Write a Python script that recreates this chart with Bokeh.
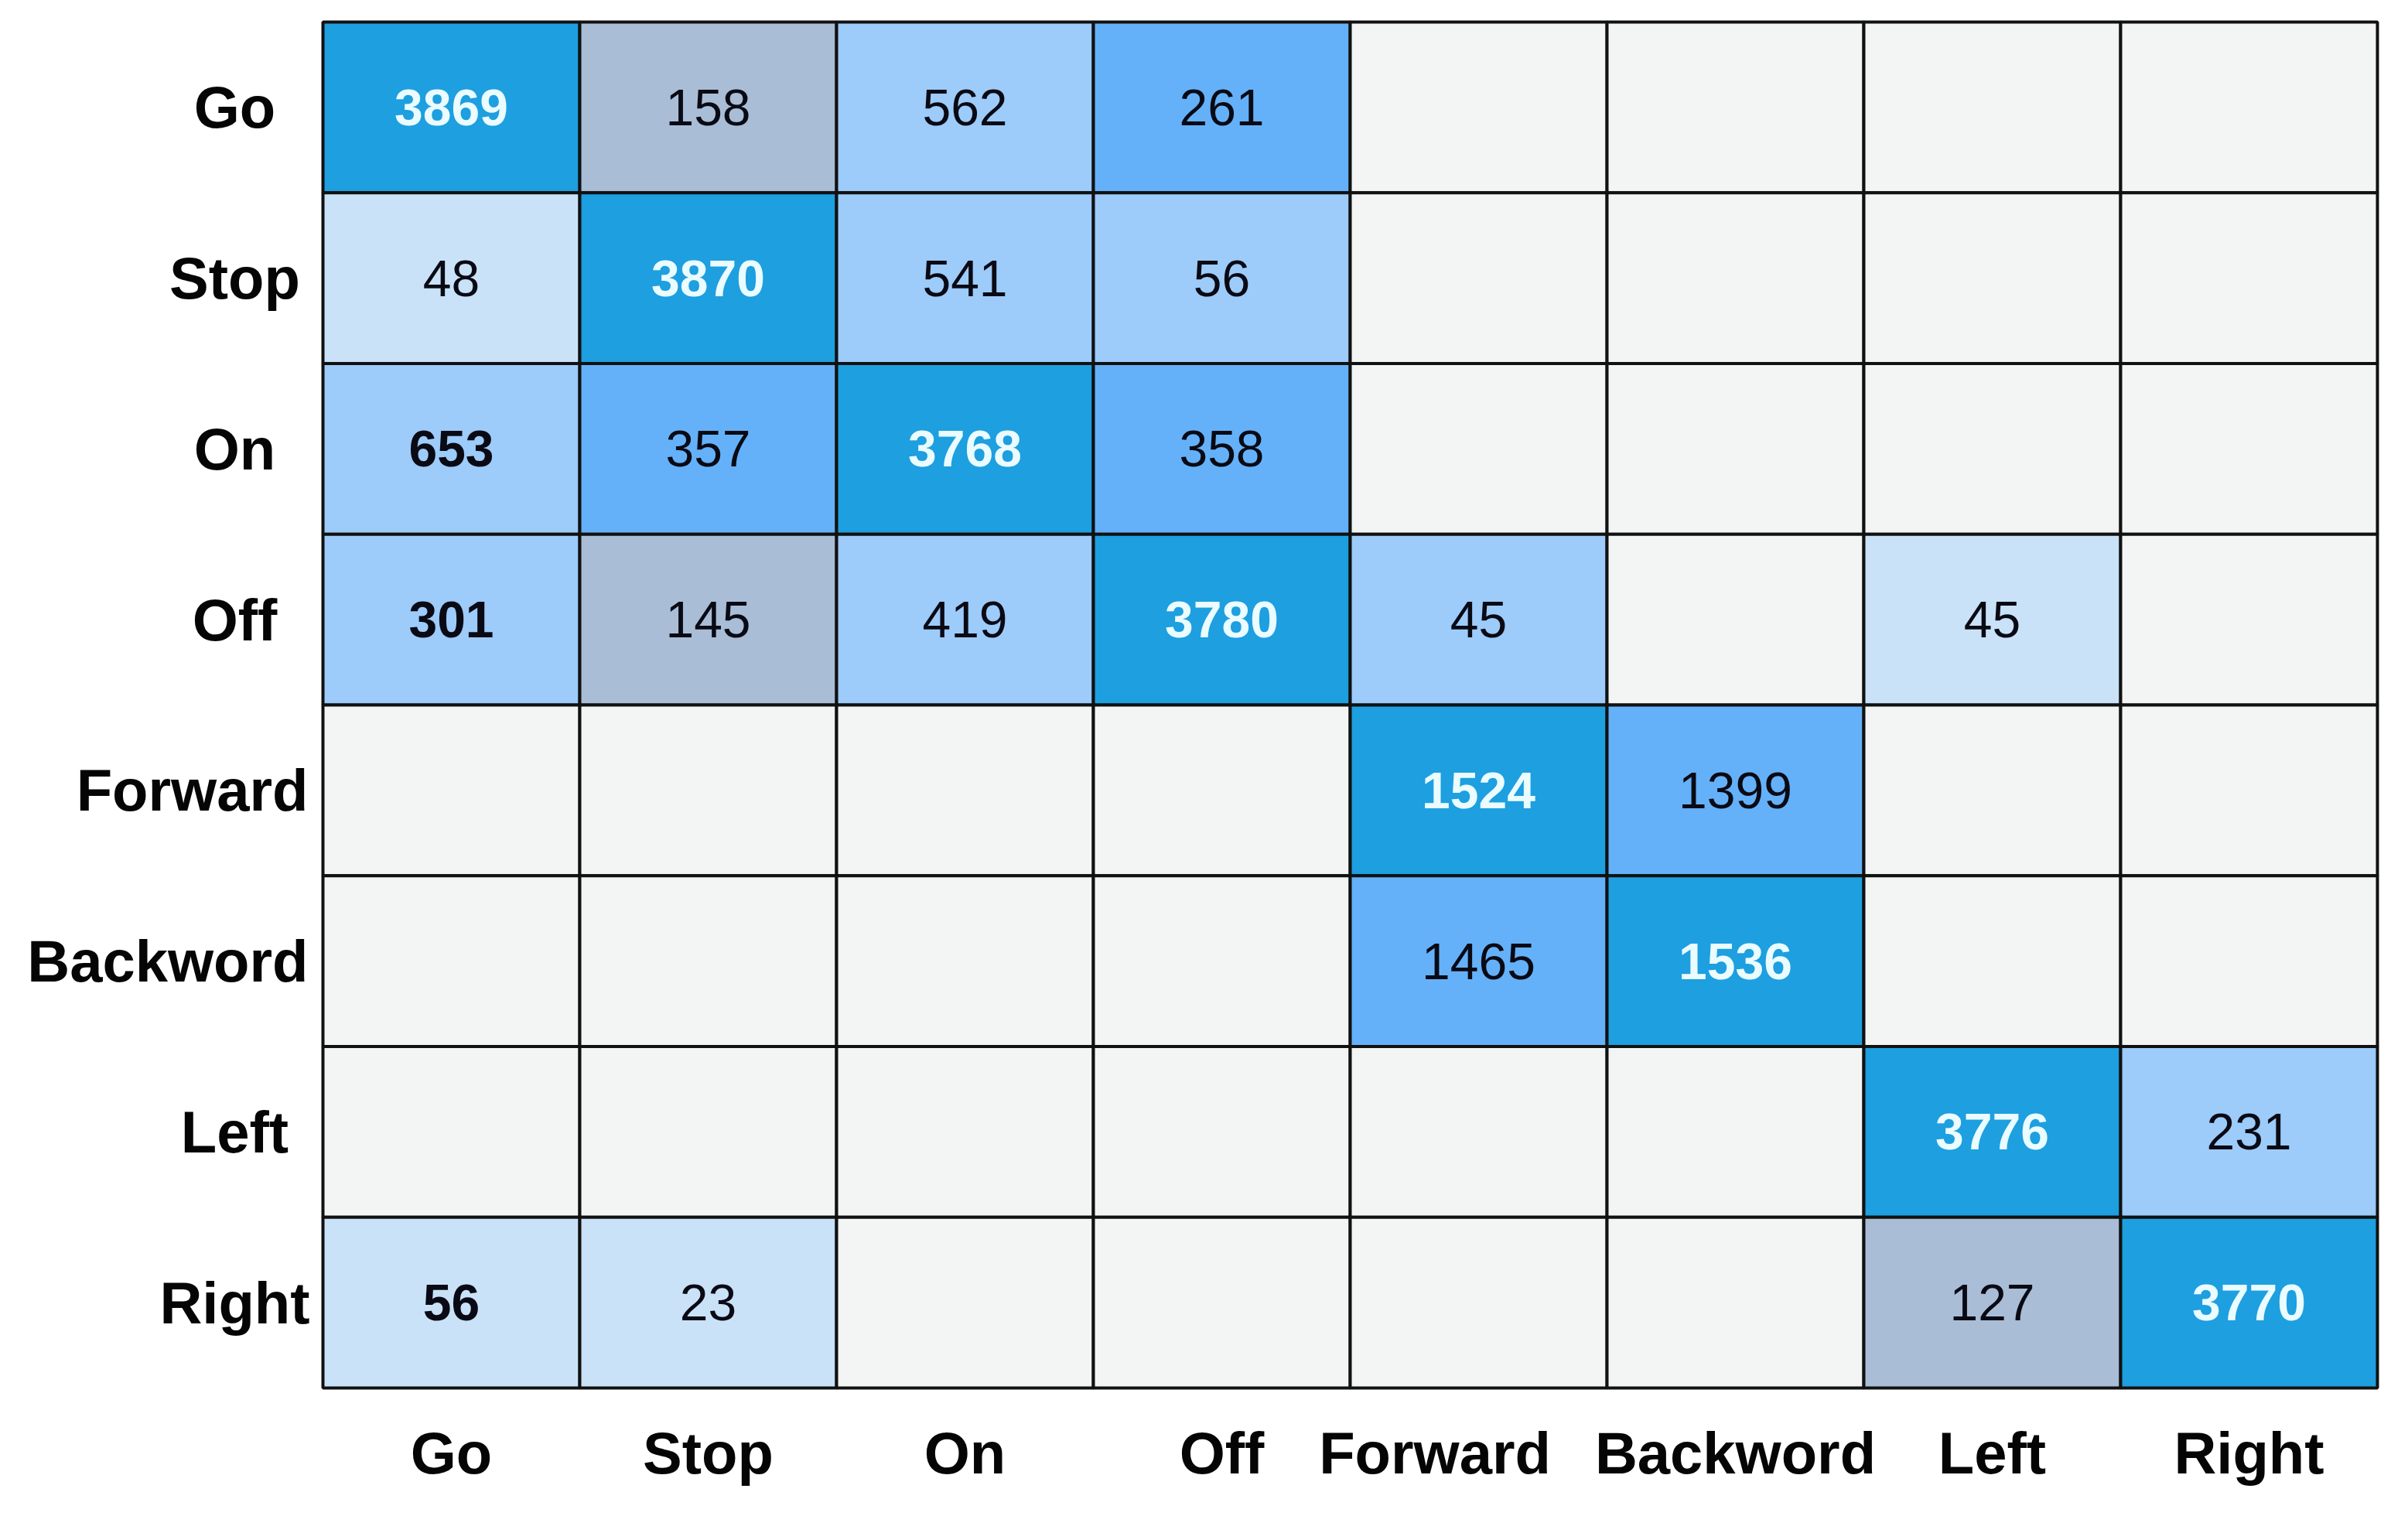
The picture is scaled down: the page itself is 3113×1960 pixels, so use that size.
from bokeh.plotting import figure
from bokeh.models import ColumnDataSource, Range1d
from bokeh.core.properties import value
from bokeh.embed import file_html
from bokeh.resources import INLINE

# ---------------- data ----------------
classes = ["Go", "Stop", "On", "Off", "Forward", "Backword", "Left", "Right"]

# rows = true class (top to bottom), columns = predicted class; None = empty cell
row_go       = [3869, 158, 562, 261, None, None, None, None]
row_stop     = [48, 3870, 541, 56, None, None, None, None]
row_on       = [653, 357, 3768, 358, None, None, None, None]
row_off      = [301, 145, 419, 3780, 45, None, 45, None]
row_forward  = [None, None, None, None, 1524, 1399, None, None]
row_backword = [None, None, None, None, 1465, 1536, None, None]
row_left     = [None, None, None, None, None, None, 3776, 231]
row_right    = [56, 23, None, None, None, None, 127, 3770]
counts = [row_go, row_stop, row_on, row_off, row_forward, row_backword, row_left, row_right]

# ---------------- styles ----------------
# shade class for each cell: D dark, M medium, L light, V very light, G grey, E empty
shade = [
    "DGLMEEEE",
    "VDLLEEEE",
    "LMDMEEEE",
    "LGLDLEVE",
    "EEEEDMEE",
    "EEEEMDEE",
    "EEEEEEDL",
    "VVEEEEGD",
]
shade_color = {"D": "#1d9fe0", "M": "#64b1f9", "L": "#9dcbfa", "V": "#c9e2f8",
               "G": "#a9bdd6", "E": "#f3f4f4"}
bold_dark_text = {(2, 0), (3, 0), (7, 0)}  # (row, col) of bold black numbers
x_label_shift = [0, 0, 0, 0, -0.17, 0, 0, 0]  # in cell widths
y_align = ["center", "center", "center", "center", "right", "right", "center", "center"]

W, H = 3097, 1944
grid_l, grid_r, grid_t, grid_b = 417, 3073, 28, 1794
n = len(classes)
cw = (grid_r - grid_l) / n
ch = (grid_b - grid_t) / n

x_start = -grid_l / cw
x_end = n + (W - grid_r) / cw
y_end = n + grid_t / ch
y_start = -(H - grid_b) / ch

p = figure(width=W, height=H, output_backend="svg", toolbar_location=None,
           x_range=Range1d(x_start, x_end), y_range=Range1d(y_start, y_end),
           x_axis_location=None, y_axis_location=None, min_border=0,
           background_fill_color="white", border_fill_color="white")
p.grid.visible = False
p.outline_line_color = None

cx, cy, col, txt, tcol, tweight = [], [], [], [], [], []
tx, ty = [], []
for r in range(n):
    for c in range(n):
        cx.append(c + 0.5)
        cy.append(n - r - 0.5)
        col.append(shade_color[shade[r][c]])
        v = counts[r][c]
        if v is not None:
            tx.append(c + 0.5)
            ty.append(n - r - 0.5)
            txt.append(str(v))
            if shade[r][c] == "D":
                tcol.append("#eafcff"); tweight.append("bold")
            elif (r, c) in bold_dark_text:
                tcol.append("#0a0a14"); tweight.append("bold")
            else:
                tcol.append("#0a0a14"); tweight.append("normal")

p.rect(x=cx, y=cy, width=1, height=1, fill_color=col, line_color="#111111", line_width=4)

src = ColumnDataSource(dict(x=tx, y=ty, t=txt, c=tcol, w=tweight))
p.text(x="x", y="y", text="t", source=src, text_color="c", text_font_style="w",
       text_font=value("Liberation Sans"), text_font_size="66px",
       text_align="center", text_baseline="middle")

# x-axis labels
xl_y = (grid_b - 1878) / ch
p.text(x=[c + 0.5 + s for c, s in zip(range(n), x_label_shift)], y=[xl_y] * n, text=classes,
       text_font=value("Liberation Sans"), text_font_style="bold", text_font_size="76px",
       text_color="#050505", text_align="center", text_baseline="middle")

# y-axis labels (centered, wide labels pushed against the grid)
center_x = (303 - grid_l) / cw
right_x = (398 - grid_l) / cw
yl_x = [center_x if a == "center" else right_x for a in y_align]
ysrc = ColumnDataSource(dict(x=yl_x, y=[n - r - 0.5 for r in range(n)], t=classes, a=y_align))
p.text(x="x", y="y", text="t", source=ysrc, text_align="a",
       text_font=value("Liberation Sans"), text_font_style="bold", text_font_size="76px",
       text_color="#050505", text_baseline="middle")

open("out.html", "w").write(file_html(p, INLINE))
